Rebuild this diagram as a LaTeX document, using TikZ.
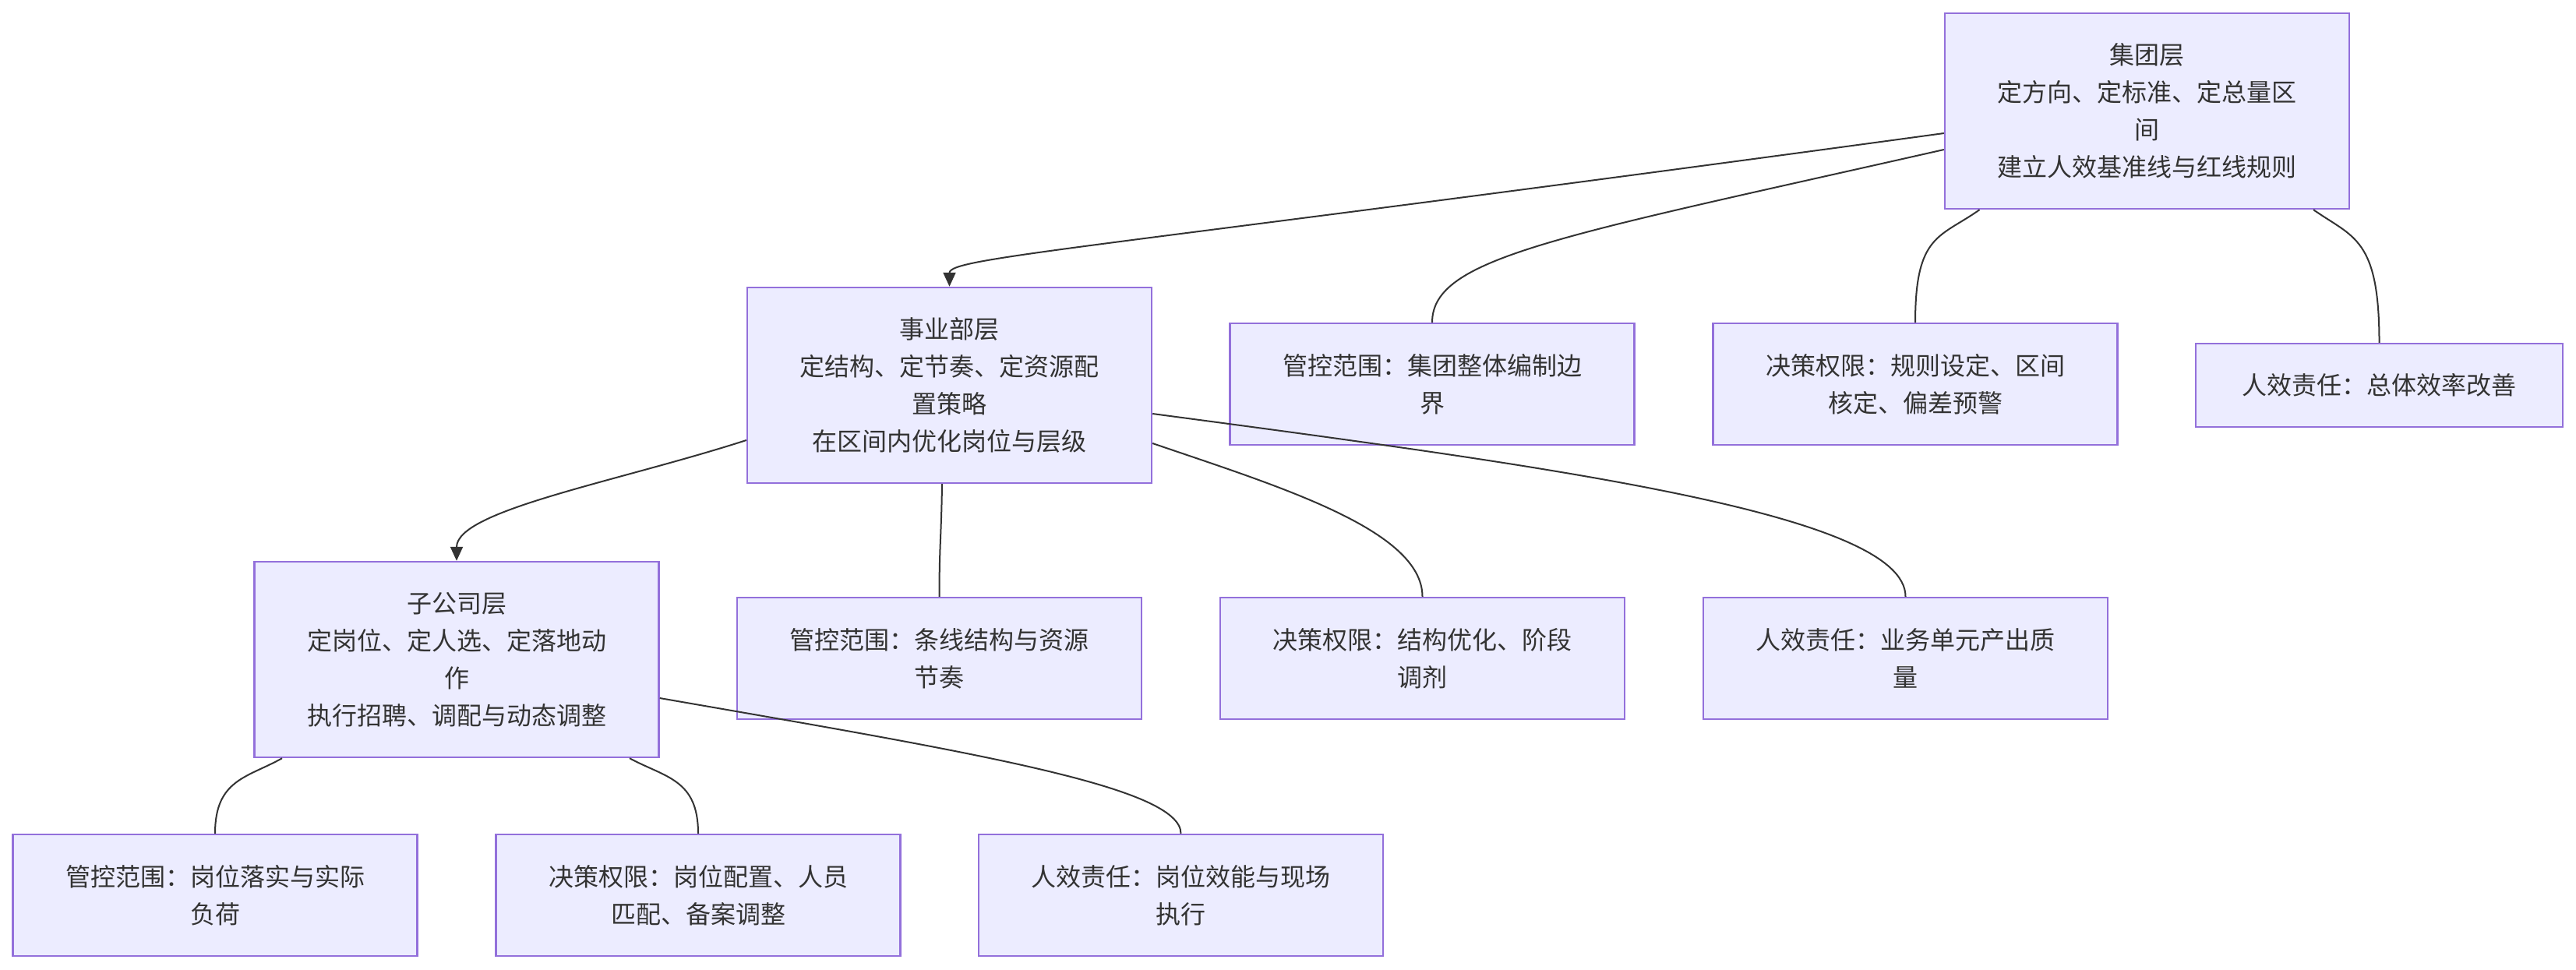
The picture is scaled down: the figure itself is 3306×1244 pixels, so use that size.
\documentclass[tikz,border=0pt]{standalone}
\usepackage{fontspec}
\setmainfont{Noto Sans CJK SC}
\usetikzlibrary{calc,arrows.meta}
\definecolor{boxfill}{HTML}{ECECFF}
\definecolor{boxline}{HTML}{9370DB}
\definecolor{edgecol}{HTML}{333333}
\begin{document}
\begin{tikzpicture}[x=0.5pt,y=-0.5pt,
  box/.style={draw=boxline, fill=boxfill, line width=1.2pt, minimum width=259.5pt,
    inner sep=0pt, align=center, text=edgecol, font=\fontsize{16}{24}\selectfont},
  tallbox/.style={box, minimum height=125.5pt},
  midbox/.style={box, minimum height=78pt},
  link/.style={draw=edgecol, line width=1pt},
  arr/.style={link, -{Triangle[length=9pt,width=8pt]}}]
\useasboundingbox (0,0) rectangle (3306,1244);

% nodes
\node[tallbox] (g)   at (2755.5,142.5) {集团层\\定方向、定标准、定总量区\\间\\建立人效基准线与红线规则};
\node[tallbox] (div) at (1218.5,494.5) {事业部层\\定结构、定节奏、定资源配\\置策略\\在区间内优化岗位与层级};
\node[midbox]  (m1)  at (1838,493)     {管控范围：集团整体编制边\\界};
\node[midbox]  (d1)  at (2458,493)     {决策权限：规则设定、区间\\核定、偏差预警};
\node[box, minimum width=235.5pt, minimum height=53.5pt] (r1) at (3053.5,494.5) {人效责任：总体效率改善};
\node[tallbox] (sub) at (586,846.5)    {子公司层\\定岗位、定人选、定落地动\\作\\执行招聘、调配与动态调整};
\node[midbox]  (m2)  at (1205.5,845)   {管控范围：条线结构与资源\\节奏};
\node[midbox]  (d2)  at (1825.5,845)   {决策权限：结构优化、阶段\\调剂};
\node[midbox]  (r2)  at (2445.5,845)   {人效责任：业务单元产出质\\量};
\node[midbox]  (m3)  at (276,1149)     {管控范围：岗位落实与实际\\负荷};
\node[midbox]  (d3)  at (896,1149)     {决策权限：岗位配置、人员\\匹配、备案调整};
\node[midbox]  (r3)  at (1515.5,1149)  {人效责任：岗位效能与现场\\执行};

% edges from group
\draw[arr]  ($(g.west)+(0,28.5)$) .. controls (1400,320) and (1218.5,330) .. (div.north);
\draw[link] ($(g.west)+(0,49.5)$) .. controls (2000,304) and (1838,330) .. (m1.north);
\draw[link] ($(g.south)+(-215,0)$) .. controls (2490,305) and (2458,300) .. (d1.north);
\draw[link] ($(g.south)+(213.5,0)$) .. controls (3020,305) and (3053.5,305) .. (r1.north);

% edges from division
\draw[arr]  ($(div.west)+(0,70.5)$) .. controls (790,619) and (586,655) .. (sub.north);
\draw[link] ($(div.south)+(-9.5,0)$) .. controls (1208,690) and (1205.5,700) .. (m2.north);
\draw[link] ($(div.east)+(0,74.5)$) .. controls (1640,624) and (1825.5,680) .. (d2.north);
\draw[link] ($(div.east)+(0,36.5)$) .. controls (2000,600) and (2445.5,660) .. (r2.north);

% edges from subsidiary
\draw[link] ($(sub.south)+(-224,0)$) .. controls (318,998) and (276,1000) .. (m3.north);
\draw[link] ($(sub.south)+(222,0)$) .. controls (854,998) and (896,1000) .. (d3.north);
\draw[link] ($(sub.east)+(0,49.5)$) .. controls (1250,966) and (1515.5,1010) .. (r3.north);
\end{tikzpicture}
\end{document}
